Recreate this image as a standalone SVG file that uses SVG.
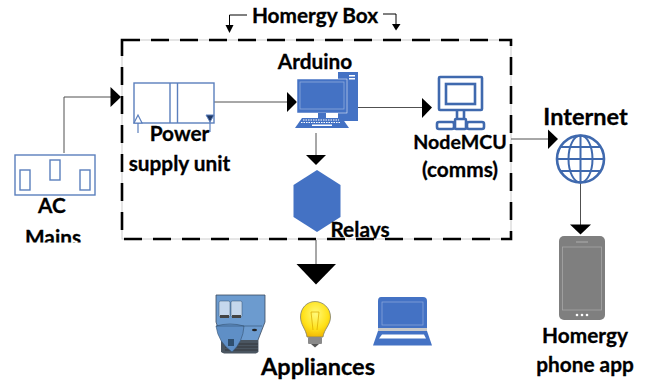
<svg xmlns="http://www.w3.org/2000/svg" width="646" height="384" viewBox="0 0 646 384">
<style>
text{font-family:Lato,Carlito,"Open Sans",sans-serif;font-weight:700;fill:#000;stroke:#000;stroke-width:.3;text-anchor:middle}
.t20{font-size:20.8px}.t23{font-size:23.5px}
.ln{fill:none;stroke:#505050;stroke-width:1}
.ol{fill:#fff;stroke:#5b7fbd;stroke-width:1.4}
.bl{fill:#4472c4}
.bo{fill:none;stroke:#3f69ae;stroke-width:2.6}
</style>
<defs>
<clipPath id="c1"><rect x="0" y="0" width="646" height="238.500"/></clipPath>
<clipPath id="c2"><rect x="0" y="0" width="646" height="242.500"/></clipPath>
<radialGradient id="bulb" cx=".5" cy=".35" r=".7"><stop offset="0" stop-color="#fff97a"/><stop offset=".6" stop-color="#ffe21a"/><stop offset="1" stop-color="#eeb000"/></radialGradient>
</defs>
<rect x="122" y="40" width="389" height="199" fill="none" stroke="#ccc" stroke-width="1"/>
<rect id="homergy-box" x="122" y="40" width="389" height="199" fill="none" stroke="#000" stroke-width="2.600" stroke-dasharray="18 11"/>
<g id="connectors">
<path class="ln" d="M64 153V97H112"/>
<path d="M110.500 87L121 97L110.500 107Z"/>
<path class="ln" d="M214 102H288"/>
<path d="M287 92L297 102L287 112Z"/>
<path class="ln" d="M357 107.500H424"/>
<path d="M422 98L432 107.500L422 118Z"/>
<path class="ln" d="M316 133V157"/>
<path d="M306 155H326L316 165Z"/>
<path class="ln" d="M511 139H549"/>
<path d="M548 129.500L558 139L548 149Z"/>
<path class="ln" d="M580.500 183V226"/>
<path d="M570 224.500H591L580.500 234.500Z"/>
<path class="ln" d="M316 240V266"/>
<path d="M296.500 264H336L316 284.500Z"/>
<path d="M247 15H229.500V27" fill="none" stroke="#000" stroke-width="1"/>
<path d="M225.500 25H233.500L229.500 33Z"/>
<path d="M383 14H396V26" fill="none" stroke="#000" stroke-width="1"/>
<path d="M392 24H400.500L396 30.500Z"/>
</g>
<g id="ac-mains">
<rect class="ol" x="15" y="155" width="80" height="40"/>
<rect class="ol" x="20" y="170" width="10" height="20"/>
<rect class="ol" x="50" y="160" width="10" height="20"/>
<rect class="ol" x="80" y="170" width="10" height="20"/>
<text class="t20" x="52" y="213">AC</text>
<text class="t20" x="53" y="244.500" clip-path="url(#c2)">Mains</text>
</g>
<g id="power-supply">
<rect class="ol" x="134" y="83" width="80" height="40"/>
<path class="ol" d="M170 83V123M177.500 83V123"/>
<path fill="#fff" stroke="#5b7fbd" stroke-width="1.200" d="M134 123L138 115L142 123Z"/>
<path d="M138 123V133" stroke="#5b7fbd" stroke-width="1.200"/>
<path fill="#1f3864" stroke="#5b7fbd" d="M206 115H214L210 122Z"/>
<path d="M210 122V132" stroke="#5b7fbd" stroke-width="1.200"/>
<text class="t20" x="179.500" y="140.500">Power</text>
<text class="t20" x="179.500" y="170.500">supply unit</text>
</g>
<g id="arduino">
<rect class="bl" x="338" y="72" width="20" height="49"/>
<rect x="349" y="75" width="6" height="1.500" fill="#fff"/><rect x="349" y="78" width="6" height="1.500" fill="#fff"/>
<rect class="bl" x="297" y="79" width="50" height="34" stroke="#fff" stroke-width="0.500"/>
<rect x="300" y="82" width="44" height="27" fill="none" stroke="#8faadc" stroke-width="0.800"/>
<rect class="bl" x="318" y="113" width="8" height="5"/>
<path class="bl" d="M302 118H342L349 128H295Z"/>
<path d="M303 120H339M301 122.500H341" stroke="#fff" stroke-width="1" stroke-dasharray="1.500 1"/>
<rect x="312" y="124.500" width="20" height="1.500" fill="#fff"/>
<text class="t20" x="315" y="69">Arduino</text>
</g>
<g id="nodemcu">
<rect class="bo" x="439" y="77" width="43" height="33" rx="1" stroke-width="3"/>
<rect class="bo" x="446" y="84" width="29" height="20" stroke-width="1.800"/>
<path class="bo" d="M457 110V119M464 110V119" stroke-width="2"/>
<rect class="bo" x="437" y="122" width="17" height="7" rx="2"/>
<rect class="bo" x="467" y="122" width="17" height="7" rx="2"/>
<rect class="bo" x="455" y="119" width="11" height="10" rx="1"/>
<text x="460" y="148.500" font-size="19.600">NodeMCU</text>
<text class="t20" x="460" y="176.500">(comms)</text>
</g>
<g id="relays">
<path class="bl" d="M317 170L340.500 185V217L317 232L293.500 217V185Z"/>
<text class="t20" x="360" y="236.500" clip-path="url(#c1)">Relays</text>
</g>
<g id="internet">
<circle cx="580.500" cy="159" r="23.500" fill="none" stroke="#3f69ae" stroke-width="2.600"/>
<ellipse cx="580.500" cy="159" rx="12" ry="23.500" fill="none" stroke="#3f69ae" stroke-width="2"/>
<path d="M580.500 135.500V182.500M557 159H604M561 147H600M561 171H600" fill="none" stroke="#3f69ae" stroke-width="2"/>
<text x="585.500" y="125" class="t23">Internet</text>
</g>
<g id="phone">
<rect x="559" y="236" width="46" height="84" rx="5" fill="#7f7f7f"/>
<rect x="562.500" y="247" width="39" height="63" fill="none" stroke="#a6a6a6" stroke-width="0.800"/>
<rect x="576" y="241" width="12" height="2" fill="#969696"/>
<circle cx="577" cy="315" r="1.300" fill="#fff"/><circle cx="582" cy="315" r="1.300" fill="#fff"/><circle cx="587" cy="315" r="1.300" fill="#fff"/>
<text class="t20" x="585" y="342.500">Homergy</text>
<text class="t20" x="585" y="371.500">phone app</text>
</g>
<g id="appliances">
<path fill="#6c9bcf" stroke="#3b4a5e" stroke-width="0.800" d="M216 295H265V322L258 340V352H222V340L216 322Z"/>
<path fill="#4a5560" d="M221 340H258V352L256 353.500H224L221 352Z"/>
<path d="M225 344H258M225 347H258M225 350H258" stroke="#222" stroke-width="0.600"/>
<path fill="#5f8fc6" stroke="#34506f" stroke-width="0.600" d="M216 326Q230 322 244 326Q243 342 232 352Q218 342 216 326Z"/>
<path fill="none" stroke="#34506f" stroke-width="0.600" d="M216 326H262"/>
<rect x="219" y="301" width="11" height="16" rx="1.500" fill="#c5d7ec" stroke="#34506f" stroke-width="0.500"/>
<rect x="231" y="301" width="11" height="16" rx="1.500" fill="#c5d7ec" stroke="#34506f" stroke-width="0.500"/>
<rect x="220" y="315" width="9" height="3" fill="#444"/><rect x="232" y="315" width="9" height="3" fill="#444"/>
<rect x="228" y="339" width="6" height="7" fill="#2f4f6f"/>
<ellipse cx="254.500" cy="330" rx="2.500" ry="1.200" fill="#222"/>
<path fill="url(#bulb)" stroke="#7f7f6a" stroke-width="0.800" d="M315 301.500C323 301.500 330.500 308 330.500 317C330.500 325 324 329 323 337H307C306 329 300.500 325 300.500 317C300.500 308 307 301.500 315 301.500Z"/>
<path d="M311 312L313 330M319 312L317 330M311 312H319" fill="none" stroke="#d8a800" stroke-width="0.700"/>
<rect x="308" y="337" width="14" height="7" rx="1" fill="#8a8a8a"/>
<path d="M311 344H319L315 347.500Z" fill="#555"/>
<path class="bl" d="M381 297H423Q427 297 427 301V328H378V301Q378 297 381 297Z"/>
<rect x="382" y="302" width="41" height="23" fill="none" stroke="#8faadc" stroke-width="0.700"/>
<rect x="378" y="328" width="49" height="3" fill="#c9c9c9"/>
<path class="bl" d="M378 331H427L432 345.500H373Z"/>
<path d="M382 334.500H424L426 338.500H379Z" fill="#fff"/>
<text x="318" y="374.500" class="t23">Appliances</text>
</g>
<g id="homergy-label"><text class="t20" x="315" y="23">Homergy Box</text></g>
</svg>
